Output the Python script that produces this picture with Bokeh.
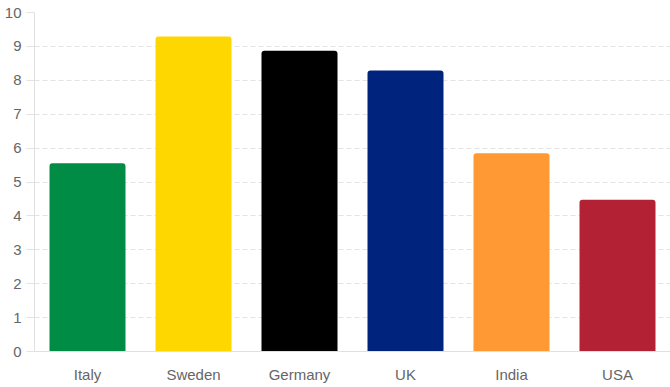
from bokeh.plotting import figure
from bokeh.models import ColumnDataSource, FactorRange, Range1d, FixedTicker
from bokeh.embed import file_html
from bokeh.resources import INLINE

countries = ["Italy", "Sweden", "Germany", "UK", "India", "USA"]
values = [5.55, 9.29, 8.87, 8.29, 5.85, 4.48]
colors = ["#008C45", "#FFD700", "#000000", "#00247D", "#FF9933", "#B22234"]
y_ticks = [0, 1, 2, 3, 4, 5, 6, 7, 8, 9, 10]

source = ColumnDataSource(dict(x=countries, top=values, color=colors))

p = figure(width=670, height=387, x_range=FactorRange(*countries, range_padding=0),
           y_range=Range1d(0, 10), output_backend="svg", toolbar_location=None,
           min_border_left=34, min_border_right=0, min_border_top=12, min_border_bottom=36)
p.outline_line_color = None

p.vbar(x="x", top="top", width=0.717, source=source, fill_color="color", line_color=None,
       border_radius=(3, 3, 0, 0))

p.xgrid.grid_line_color = None
p.ygrid.grid_line_color = "#e3e3e3"
p.ygrid.grid_line_dash = "5 3"
p.ygrid.grid_line_width = 1

p.yaxis.ticker = FixedTicker(ticks=y_ticks)
p.yaxis.minor_tick_line_color = None
p.yaxis.major_tick_out = 8
p.yaxis.major_tick_in = 0
p.yaxis.major_tick_line_color = "#e3e3e3"
p.yaxis.axis_line_color = "#e0e0e0"
p.yaxis.major_label_standoff = 5

p.xaxis.major_tick_out = 0
p.xaxis.major_tick_in = 0
p.xaxis.axis_line_color = "#e0e0e0"
p.xaxis.major_label_standoff = 14

for ax in (p.xaxis, p.yaxis):
    ax.major_label_text_font = "Liberation Sans"
    ax.major_label_text_font_size = "15px"
    ax.major_label_text_color = "#666666"

html = file_html(p, INLINE)
html = html.replace("<head>", "<head><style>body{margin:0;}</style>", 1)
open("out.html", "w").write(html)
